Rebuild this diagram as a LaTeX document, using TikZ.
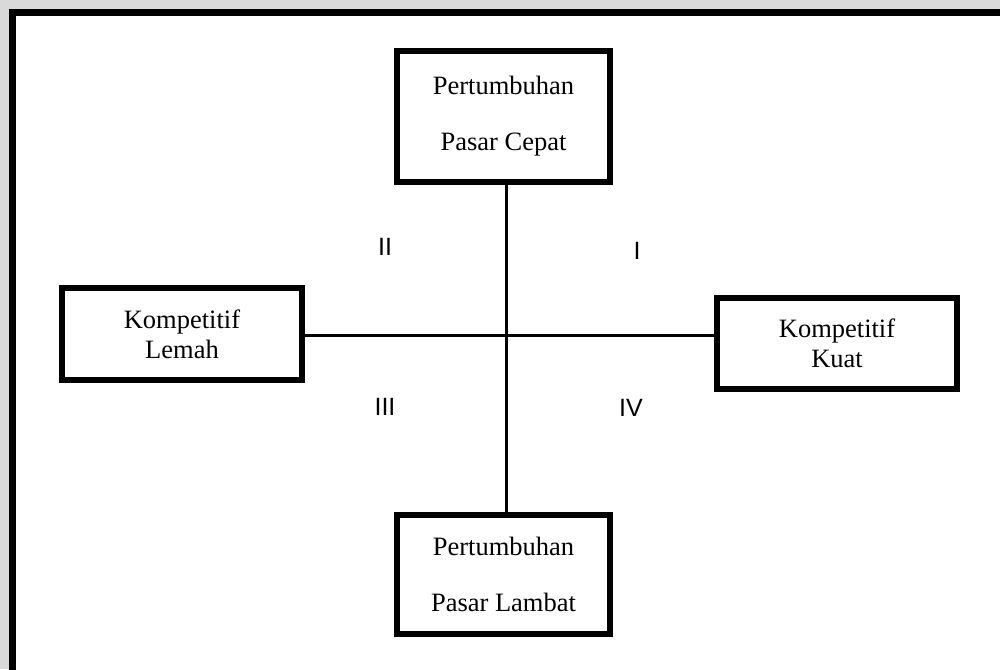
\documentclass[tikz,border=0pt]{standalone}
\usepackage{fontspec}
\setmainfont{Liberation Serif}
\newfontfamily\labfont{Liberation Sans}
\begin{document}
\begin{tikzpicture}[x=1pt,y=-1pt,
  bx/.style={draw=black,line width=6pt,fill=white,inner sep=0pt,align=center,
    font=\fontsize{26.5}{30}\selectfont},
  tallbx/.style={bx,font=\fontsize{26.5}{56}\selectfont},
  conn/.style={draw=black,line width=3pt},
  quad/.style={font=\labfont\fontsize{25}{30}\selectfont,inner sep=0pt}]
\useasboundingbox (0,0) rectangle (1000,669);
\fill[gray!30!white] (0,0) rectangle (1000,669);
\fill[white] (9,9) rectangle (1000,669);
\draw[line width=7pt] (1010,12.5) -- (12.5,12.5) -- (12.5,700);
% boxes
\node[tallbx,minimum width=213pt,minimum height=131pt] (top) at (503.5,116.5) {Pertumbuhan\\Pasar Cepat};
\node[tallbx,minimum width=213pt,minimum height=119pt] (bot) at (503.5,574.5) {Pertumbuhan\\Pasar Lambat};
\node[bx,minimum width=240pt,minimum height=92pt] (left) at (182,334) {Kompetitif\\Lemah};
\node[bx,minimum width=240pt,minimum height=91pt] (right) at (837,343.5) {Kompetitif\\Kuat};
% connectors
\coordinate (vt) at ([xshift=2.5pt]top.south);
\coordinate (vb) at ([xshift=2.5pt]bot.north);
\draw[conn] ([yshift=3pt]vt) -- ([yshift=-3pt]vb);
\coordinate (hl) at ([xshift=-2pt,yshift=-1pt]left.east);
\draw[conn] (hl) -- ([xshift=2pt]hl -| right.west);
% quadrant labels
\node[quad] (q2) at (385,247) {II};
\node[quad] (q1) at (637,251) {I};
\node[quad] (q3) at (385,407) {III};
\node[quad] (q4) at (631,408) {IV};
\end{tikzpicture}
\end{document}
